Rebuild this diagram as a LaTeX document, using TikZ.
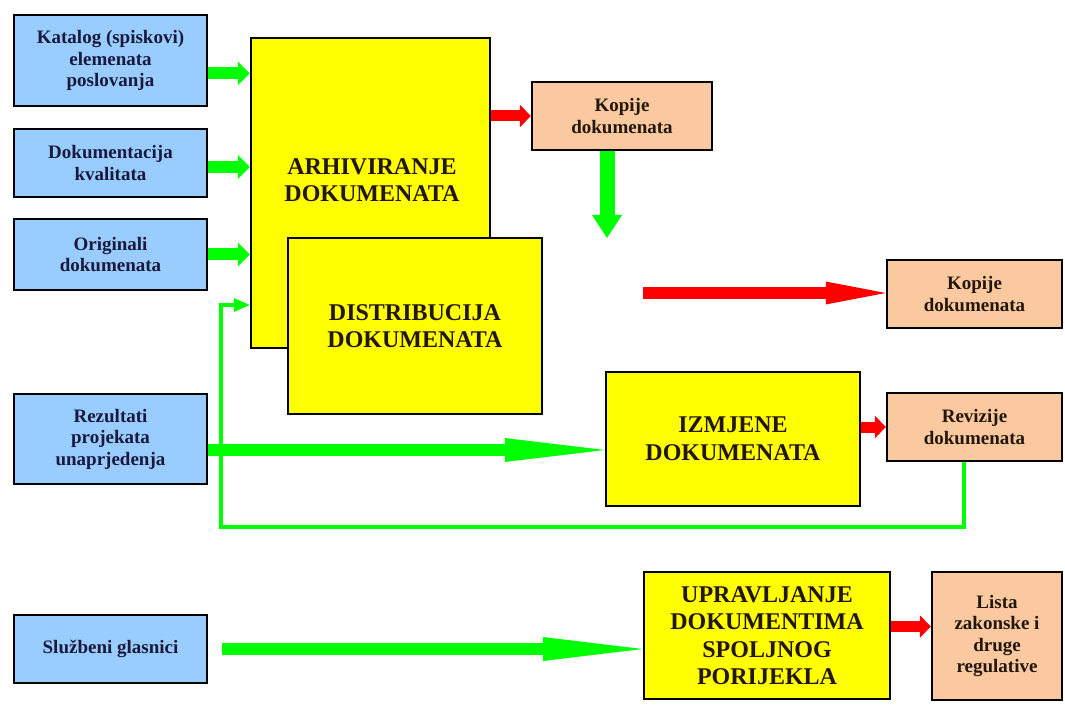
\documentclass[tikz,border=0pt]{standalone}
\usepackage{fontspec}
\setmainfont{Liberation Serif}
\usetikzlibrary{arrows.meta}
\definecolor{inblue}{RGB}{153,204,255}
\definecolor{outtan}{RGB}{250,201,160}
\definecolor{procyel}{RGB}{255,255,0}
\definecolor{flowgreen}{RGB}{0,255,0}
\definecolor{flowred}{RGB}{255,0,0}
\definecolor{textnavy}{RGB}{25,25,60}
\definecolor{textbrown}{RGB}{35,22,10}
\begin{document}
\begin{tikzpicture}[x=1pt,y=-1pt,
  inbox/.style={draw, line width=2.5pt, fill=inblue, align=center, inner sep=0pt,
    font=\fontsize{19}{21.5}\selectfont\bfseries, text=textnavy},
  outbox/.style={inbox, fill=outtan, text=textbrown},
  procbox/.style={draw, line width=2.5pt, fill=procyel, align=center, inner sep=0pt,
    font=\fontsize{24}{27.5}\selectfont\bfseries, text=textbrown},
  garrow/.style={flowgreen, line width=12pt, -{Triangle[width=24pt,length=12pt,line width=0pt]}},
  redarrow/.style={flowred, line width=11pt, -{Triangle[width=23pt,length=11pt,line width=0pt]}},
  downarrow/.style={flowgreen, line width=15pt, -{Triangle[width=30pt,length=23pt,line width=0pt]}},
  longgreen/.style={flowgreen, line width=12pt, -{Triangle[width=24pt,length=100pt,line width=0pt]}},
  longred/.style={flowred, line width=12pt, -{Triangle[width=23pt,length=60pt,line width=0pt]}},
  fbarrow/.style={flowgreen, line width=4pt, -{Triangle[width=14pt,length=16pt,line width=0pt]}}
  ]
  \path[fill=white, use as bounding box] (0,0) rectangle (1065,708);

  % inputs
  \node[inbox, minimum width=193pt, minimum height=91pt] (katalog) at (110.5,60.5) {Katalog (spiskovi)\\elemenata\\poslovanja};
  \node[inbox, minimum width=193pt, minimum height=68pt] (kvalitet) at (110.5,163) {Dokumentacija\\kvalitata};
  \node[inbox, minimum width=193pt, minimum height=71pt] (originali) at (110.5,254.5) {Originali\\dokumenata};
  \node[inbox, minimum width=193pt, minimum height=90pt] (rezultati) at (110.5,439) {Rezultati\\projekata\\unaprjedenja};
  \node[inbox, minimum width=193pt, minimum height=68pt] (glasnici) at (110.5,649) {Službeni glasnici};

  % processes
  \node[procbox, minimum width=239pt, minimum height=310pt] (arhiv) at (370.5,193) {};
  \node[font=\fontsize{24}{27.5}\selectfont\bfseries, text=textbrown, align=center] (arhivtxt) at (372,180) {ARHIVIRANJE\\DOKUMENATA};
  \node[procbox, minimum width=254pt, minimum height=176pt] (distrib) at (415,326) {DISTRIBUCIJA\\DOKUMENATA};
  \node[procbox, minimum width=254pt, minimum height=134pt] (izmjene) at (733,439) {IZMJENE\\DOKUMENATA};
  \node[procbox, minimum width=246pt, minimum height=127pt] (upravljanje) at (767,635.5) {UPRAVLJANJE\\DOKUMENTIMA\\SPOLJNOG\\PORIJEKLA};

  % outputs
  \node[outbox, minimum width=180pt, minimum height=68pt] (kopije) at (622,116) {Kopije\\dokumenata};
  \node[outbox, minimum width=175pt, minimum height=68pt] (kopijeb) at (974.5,294) {Kopije\\dokumenata};
  \node[outbox, minimum width=175pt, minimum height=68pt] (revizije) at (974.5,427) {Revizije\\dokumenata};
  \node[outbox, minimum width=130pt, minimum height=128pt] (lista) at (997,636) {Lista\\zakonske i\\druge\\regulative};

  % flows
  \draw[garrow] ([yshift=-13pt]katalog.east) -- ([yshift=-13pt]katalog.east -| arhiv.west);
  \draw[garrow] ([yshift=-4pt]kvalitet.east) -- ([yshift=-4pt]kvalitet.east -| arhiv.west);
  \draw[garrow] (originali.east) -- (originali.east -| arhiv.west);
  \draw[redarrow] (arhiv.east |- kopije.west) -- (kopije.west);
  \coordinate (kopdown) at (607,238);
  \draw[downarrow] (kopdown |- kopije.south) -- (kopdown);
  \coordinate (redstart) at (643,293);
  \draw[longred] (redstart) -- (redstart -| kopijeb.west);
  \draw[longgreen] ([yshift=-11pt]rezultati.east) -- ([yshift=-11pt]rezultati.east -| izmjene.west);
  \draw[redarrow] (izmjene.east |- revizije.west) -- (revizije.west);
  \coordinate (fbturn) at (221,527);
  \coordinate (fbtop) at (221,305);
  \draw[fbarrow] ([xshift=-11pt]revizije.south) |- (fbturn) -- (fbtop) -- (fbtop -| arhiv.west);
  \draw[longgreen, shorten <=14pt] (glasnici.east) -- (glasnici.east -| upravljanje.west);
  \draw[redarrow] ([yshift=9pt]upravljanje.east) -- ([yshift=9pt]upravljanje.east -| lista.west);
\end{tikzpicture}
\end{document}
